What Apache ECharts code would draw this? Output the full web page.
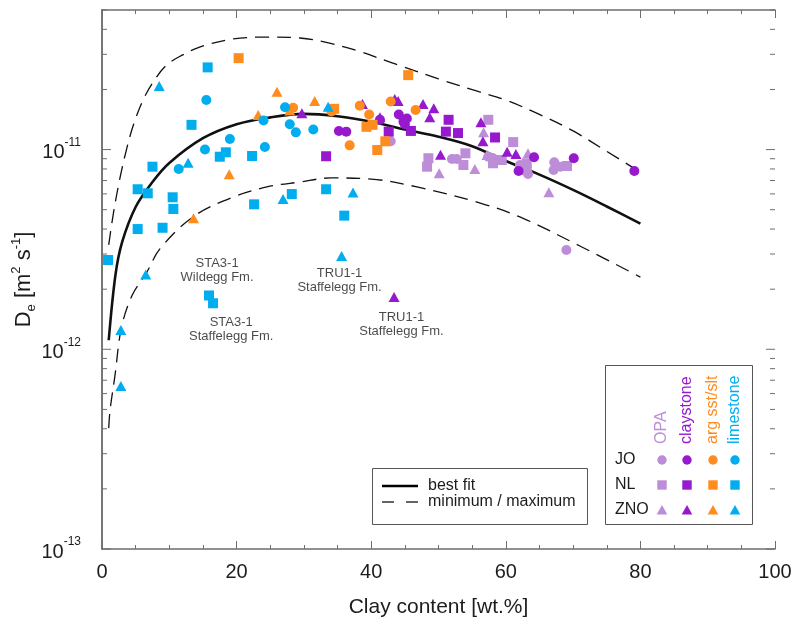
<!DOCTYPE html>
<html>
<head>
<meta charset="utf-8">
<script src="https://cdn.jsdelivr.net/npm/echarts@6/dist/echarts.min.js"></script>
<style>
  html, body { margin: 0; padding: 0; background: #fff; }
  #chart { width: 794px; height: 630px; }
</style>
</head>
<body>
<div id="chart"></div>
<script>
// Effective diffusion coefficient De [m2/s] versus clay content [wt.%]
// Points are [clay content, De]; one list per lithology (OPA, claystone,
// argillaceous sandstone/siltstone, limestone) and per region (JO, NL, ZNO).

const opaJO = [[42.9,1.10e-11],[52.0,8.97e-12],[52.7,8.97e-12],[57.4,9.21e-12],[58.1,9.05e-12],[62.1,8.37e-12],[63.3,7.55e-12],[67.2,8.64e-12],[67.1,7.90e-12],[68.1,8.21e-12],[69.0,3.14e-12]];
const opaNL = [[48.5,9.05e-12],[48.3,8.21e-12],[54.0,9.58e-12],[53.7,8.37e-12],[57.4,1.41e-11],[61.1,1.09e-11],[58.1,8.54e-12],[59.4,8.87e-12],[63.1,8.54e-12],[63.1,7.90e-12],[69.1,8.28e-12]];
const opaZNO = [[50.1,7.61e-12],[55.4,8.00e-12],[56.7,1.22e-11],[57.2,9.40e-12],[63.3,9.58e-12],[66.4,6.11e-12]];

const clayJO = [[41.3,1.41e-11],[44.1,1.50e-11],[45.3,1.43e-11],[44.8,1.38e-11],[45.0,1.34e-11],[35.2,1.24e-11],[36.3,1.23e-11],[64.2,9.15e-12],[61.9,7.82e-12],[70.1,9.05e-12],[79.1,7.82e-12]];
const clayNL = [[33.3,9.26e-12],[42.6,1.23e-11],[45.9,1.24e-11],[51.1,1.23e-11],[52.9,1.21e-11],[51.5,1.41e-11],[58.4,1.15e-11]];
const clayZNO = [[29.7,1.52e-11],[38.7,1.69e-11],[41.3,1.45e-11],[43.5,1.79e-11],[44.0,1.75e-11],[47.7,1.69e-11],[49.3,1.61e-11],[48.7,1.45e-11],[50.3,9.43e-12],[56.3,1.37e-11],[56.6,1.10e-11],[60.2,9.76e-12],[61.5,9.51e-12],[43.4,1.83e-12]];

const argJO = [[28.4,1.62e-11],[34.1,1.55e-11],[38.3,1.66e-11],[39.7,1.50e-11],[42.9,1.74e-11],[46.6,1.58e-11],[36.8,1.05e-11]];
const argNL = [[20.3,2.87e-11],[45.5,2.36e-11],[34.5,1.60e-11],[39.3,1.30e-11],[40.2,1.33e-11],[42.1,1.10e-11],[40.9,9.95e-12]];
const argZNO = [[26.0,1.95e-11],[31.6,1.75e-11],[23.2,1.49e-11],[27.9,1.57e-11],[18.9,7.52e-12],[13.6,4.53e-12]];

const limeJO = [[15.5,1.77e-11],[27.2,1.63e-11],[24.0,1.40e-11],[27.9,1.34e-11],[31.4,1.26e-11],[28.8,1.22e-11],[19.0,1.13e-11],[24.2,1.03e-11],[15.3,1.00e-11],[11.4,8.00e-12]];
const limeNL = [[15.7,2.58e-11],[13.3,1.33e-11],[18.4,9.69e-12],[17.5,9.21e-12],[22.3,9.29e-12],[7.5,8.21e-12],[5.3,6.33e-12],[6.8,6.04e-12],[10.5,5.77e-12],[10.6,5.04e-12],[28.2,5.99e-12],[22.6,5.32e-12],[33.3,6.33e-12],[5.3,4.00e-12],[9.0,4.06e-12],[0.9,2.80e-12],[15.9,1.86e-12],[16.5,1.70e-12],[36.0,4.67e-12]];
const limeZNO = [[8.5,2.08e-11],[33.6,1.64e-11],[12.8,8.60e-12],[26.9,5.66e-12],[37.3,6.09e-12],[6.5,2.37e-12],[2.8,1.25e-12],[2.8,6.55e-13],[35.6,2.93e-12]];

// Best-fit curve and its lower / upper envelope
const bestFit = [[1,1.11e-12],[2,2.36e-12],[3,3.45e-12],[5,5.16e-12],[7.5,6.88e-12],[10,8.57e-12],[15,1.14e-11],[20,1.34e-11],[25,1.45e-11],[30,1.51e-11],[35,1.47e-11],[40,1.38e-11],[45,1.26e-11],[50,1.16e-11],[55,1.04e-11],[60,8.77e-12],[65,7.49e-12],[70,6.28e-12],[75,5.19e-12],[80,4.26e-12]];
const maxCurve = [[1,3.33e-12],[1.7,4.81e-12],[2.7,7.29e-12],[3.7,1.02e-11],[4.7,1.34e-11],[6.1,1.77e-11],[7.6,2.18e-11],[9.6,2.65e-11],[12,2.98e-11],[14.6,3.27e-11],[19.5,3.58e-11],[24.5,3.66e-11],[29.4,3.62e-11],[33,3.46e-11],[38,3.12e-11],[44,2.65e-11],[50,2.26e-11],[56,1.95e-11],[60,1.77e-11],[65,1.50e-11],[70,1.24e-11],[75,9.8e-12],[80,7.7e-12]];
const minCurve = [[1,4.03e-13],[1.2,4.97e-13],[1.9,7.27e-13],[2.9,1.29e-12],[4.5,1.87e-12],[6.6,2.41e-12],[8.6,3.18e-12],[13.5,4.60e-12],[19.5,5.79e-12],[24.5,6.50e-12],[29.4,6.88e-12],[34,7.21e-12],[40,7.12e-12],[46.8,6.50e-12],[56.2,5.40e-12],[62.5,4.54e-12],[71,3.29e-12],[80,2.30e-12]];

// Borehole / formation notes placed in data coordinates
const notes = [
  ['STA3-1\nWildegg Fm.', 17.1, 2.47e-12],
  ['STA3-1\nStaffelegg Fm.', 19.2, 1.26e-12],
  ['TRU1-1\nStaffelegg Fm.', 35.3, 2.21e-12],
  ['TRU1-1\nStaffelegg Fm.', 44.5, 1.33e-12]
];

const lithologies = ['OPA', 'claystone', 'arg sst/slt', 'limestone'];
const regions = ['JO', 'NL', 'ZNO'];
const xTicks = [0, 20, 40, 60, 80, 100];
const yDecades = [-13, -12, -11];

const colors = ['#BD8DD8', '#9619CD', '#FF8C1E', '#00AEEF'];
const shapes = ['circle', 'rect', 'triangle'];
const sizes = [10, 10, [11, 10]];
const FONT = '"Liberation Sans", Arial, Helvetica, sans-serif';
const AXIS = '#6e6e6e';
const TXT = '#1c1c1c';
const Y_MIN = 1e-13, Y_MAX = 5e-11;

const pointSets = [
  [opaJO, opaNL, opaZNO],
  [clayJO, clayNL, clayZNO],
  [argJO, argNL, argZNO],
  [limeJO, limeNL, limeZNO]
];

const chart = echarts.init(document.getElementById('chart'), null, { renderer: 'canvas' });

const series = [];
const curveStyle = (data, width, type) => ({
  type: 'line', data, xAxisIndex: 0, yAxisIndex: 0, smooth: 0.35,
  symbol: 'none', silent: true, z: 2,
  lineStyle: { color: '#111', width, type }
});
series.push(curveStyle(bestFit, 2.6, 'solid'));
series.push(curveStyle(maxCurve, 1.3, [14, 8]));
series.push(curveStyle(minCurve, 1.3, [14, 8]));

pointSets.forEach((sets, li) => {
  sets.forEach((data, ri) => {
    series.push({
      type: 'scatter', name: lithologies[li] + ' ' + regions[ri], data,
      symbol: shapes[ri], symbolSize: sizes[ri], z: 3, silent: true,
      itemStyle: { color: colors[li], opacity: 1 }
    });
  });
});

series.push({
  type: 'scatter', silent: true, z: 4, symbolSize: 0,
  data: notes.map(n => ({ name: n[0], value: [n[1], n[2]] })),
  label: {
    show: true, position: 'inside', formatter: '{b}',
    fontFamily: FONT, fontSize: 13, lineHeight: 14, color: TXT, align: 'center'
  }
});

const supRich = {
  b: { fontFamily: FONT, fontSize: 20, color: TXT, lineHeight: 26, verticalAlign: 'bottom' },
  s: { fontFamily: FONT, fontSize: 12, color: TXT, lineHeight: 12, verticalAlign: 'top' }
};

// Only whole decades get a 10^n label
const decadeLabel = v => {
  const e = Math.log10(v);
  if (Math.abs(e - Math.round(e)) > 1e-6) return '';
  return '{b|10}{s|' + Math.round(e) + '}';
};

const option = {
  animation: false,
  backgroundColor: '#fff',
  grid: { left: 102, right: 19, top: 10, bottom: 81, containLabel: false, outerBoundsMode: 'none' },
  xAxis: [
    {
      type: 'value', min: xTicks[0], max: xTicks[xTicks.length - 1], interval: 20,
      name: 'Clay content [wt.%]', nameLocation: 'middle', nameGap: 48,
      nameTextStyle: { fontFamily: FONT, fontSize: 21, color: TXT },
      axisLine: { show: true, lineStyle: { color: AXIS, width: 1.5 } },
      axisTick: { show: true, inside: true, length: 8, lineStyle: { color: AXIS, width: 1 } },
      minorTick: { show: true, splitNumber: 4, length: 4, lineStyle: { color: AXIS, width: 1 } },
      axisLabel: { fontFamily: FONT, fontSize: 20, color: TXT, margin: 13 },
      splitLine: { show: false }
    },
    {
      type: 'value', position: 'top', min: xTicks[0], max: xTicks[xTicks.length - 1], interval: 20,
      axisLine: { show: true, lineStyle: { color: AXIS, width: 1.5 } },
      axisTick: { show: true, inside: true, length: 8, lineStyle: { color: AXIS, width: 1 } },
      minorTick: { show: true, splitNumber: 4, length: 4, lineStyle: { color: AXIS, width: 1 } },
      axisLabel: { show: false }, splitLine: { show: false }
    }
  ],
  yAxis: [
    {
      type: 'log', logBase: 10, min: Y_MIN, max: Y_MAX,
      name: '{b|D}{sub|e}{b| [m}{sup|2}{b| s}{sup|-1}{b|]}',
      nameLocation: 'middle', nameGap: 64, nameRotate: 90, nameMoveOverlap: false,
      nameTextStyle: {
        rich: {
          b: { fontFamily: FONT, fontSize: 22, color: TXT, lineHeight: 28, verticalAlign: 'middle' },
          sub: { fontFamily: FONT, fontSize: 13, color: TXT, lineHeight: 12, verticalAlign: 'bottom' },
          sup: { fontFamily: FONT, fontSize: 13, color: TXT, lineHeight: 12, verticalAlign: 'top' }
        }
      },
      axisLine: { show: true, lineStyle: { color: AXIS, width: 1.5 } },
      axisTick: { show: false },
      minorTick: { show: false },
      axisLabel: { margin: 21, formatter: decadeLabel, rich: supRich },
      splitLine: { show: false }
    },
    {
      type: 'log', logBase: 10, min: Y_MIN, max: Y_MAX, position: 'right',
      axisLine: { show: true, lineStyle: { color: AXIS, width: 1.5 } },
      axisTick: { show: false },
      minorTick: { show: false },
      axisLabel: { show: false }, splitLine: { show: false }
    }
  ],
  series
};

chart.setOption(option);

// Log ticks on both vertical frame edges: long at decades, short at 2..9
const graphics = [];
const xl = chart.convertToPixel({ xAxisIndex: 0 }, xTicks[0]);
const xr = chart.convertToPixel({ xAxisIndex: 0 }, xTicks[xTicks.length - 1]);
const tick = (py, len) => {
  graphics.push({ type: 'line', silent: true, shape: { x1: xl, y1: py, x2: xl + len, y2: py }, style: { stroke: AXIS, lineWidth: 1 } });
  graphics.push({ type: 'line', silent: true, shape: { x1: xr, y1: py, x2: xr - len, y2: py }, style: { stroke: AXIS, lineWidth: 1 } });
};
yDecades.forEach(e => {
  for (let k = 1; k <= 9; k++) {
    const v = k * Math.pow(10, e);
    if (v > Y_MAX) continue;
    tick(chart.convertToPixel({ yAxisIndex: 0 }, v), k === 1 ? 9 : 5);
  }
});

// Key for the curves
graphics.push({ type: 'rect', shape: { x: 372.5, y: 468.5, width: 215, height: 56 }, style: { fill: '#fff', stroke: '#555', lineWidth: 1 }, z: 10 });
graphics.push({ type: 'line', shape: { x1: 382, y1: 486, x2: 418, y2: 486 }, style: { stroke: '#000', lineWidth: 2.6 }, z: 11 });
graphics.push({ type: 'line', shape: { x1: 382, y1: 502, x2: 394, y2: 502 }, style: { stroke: '#111', lineWidth: 1.3 }, z: 11 });
graphics.push({ type: 'line', shape: { x1: 406, y1: 502, x2: 418, y2: 502 }, style: { stroke: '#111', lineWidth: 1.3 }, z: 11 });
graphics.push({ type: 'text', x: 428, y: 486, style: { text: 'best fit', font: '16px ' + FONT, fill: TXT, textVerticalAlign: 'middle' }, z: 11 });
graphics.push({ type: 'text', x: 428, y: 502, style: { text: 'minimum / maximum', font: '16px ' + FONT, fill: TXT, textVerticalAlign: 'middle' }, z: 11 });

// Key for lithology (columns) and region (rows)
graphics.push({ type: 'rect', shape: { x: 605.5, y: 365.5, width: 147, height: 159 }, style: { fill: '#fff', stroke: '#555', lineWidth: 1 }, z: 10 });
const colX = [662, 687, 713, 735];
const rowY = [460, 485, 510];
regions.forEach((r, ri) => {
  graphics.push({ type: 'text', x: 615, y: rowY[ri], style: { text: r, font: '16px ' + FONT, fill: TXT, textVerticalAlign: 'middle' }, z: 11 });
});
lithologies.forEach((l, li) => {
  graphics.push({
    type: 'text', x: colX[li], y: 444, rotation: Math.PI / 2,
    style: { text: l, font: '16px ' + FONT, fill: colors[li], textAlign: 'left', textVerticalAlign: 'middle' }, z: 11
  });
  const cx = colX[li];
  graphics.push({ type: 'circle', shape: { cx, cy: rowY[0], r: 4.7 }, style: { fill: colors[li] }, z: 11 });
  graphics.push({ type: 'rect', shape: { x: cx - 4.7, y: rowY[1] - 4.7, width: 9.4, height: 9.4 }, style: { fill: colors[li] }, z: 11 });
  graphics.push({ type: 'polygon', shape: { points: [[cx, rowY[2] - 5], [cx + 5.3, rowY[2] + 4.5], [cx - 5.3, rowY[2] + 4.5]] }, style: { fill: colors[li] }, z: 11 });
});

chart.setOption({ graphic: graphics });
</script>
</body>
</html>
